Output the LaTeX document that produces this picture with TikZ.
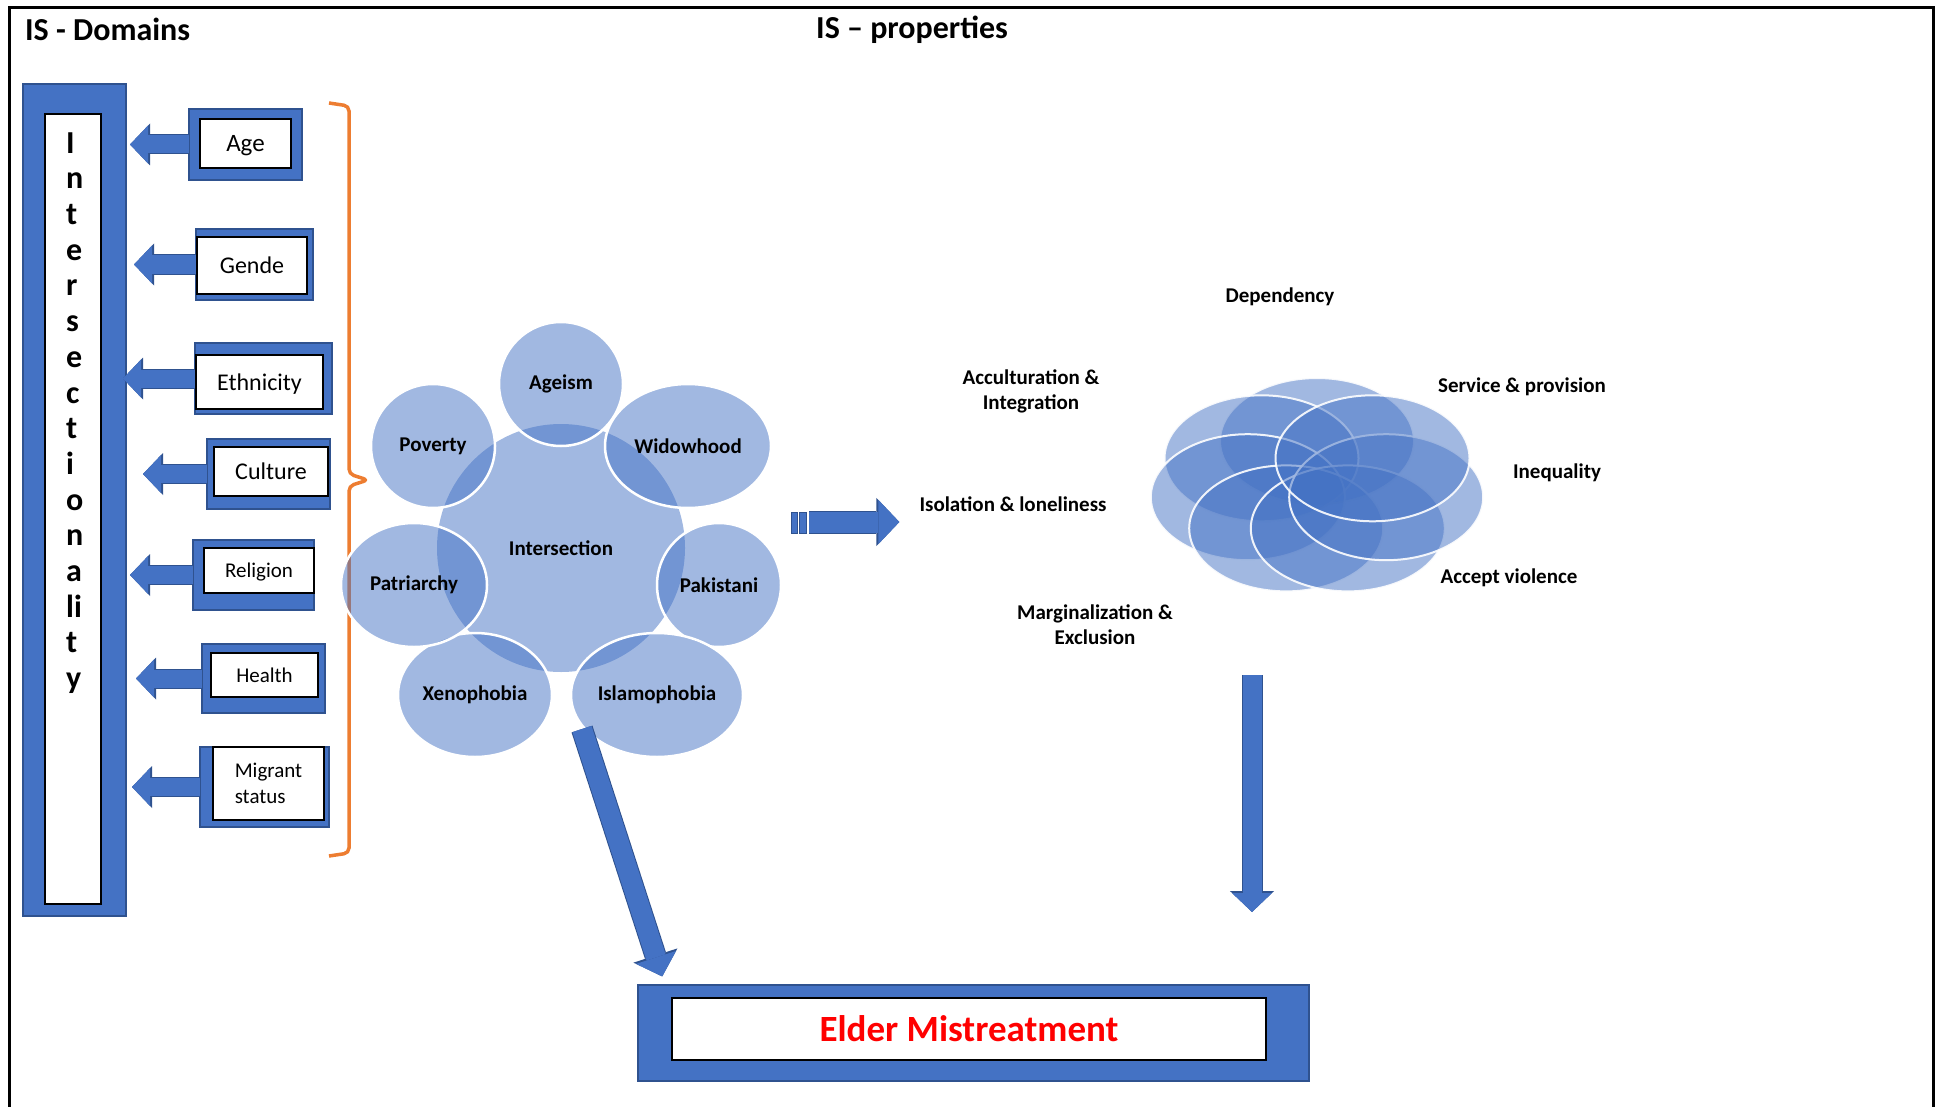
\documentclass[tikz,border=0pt]{standalone}
\usepackage{fontspec}
\setmainfont{Carlito}
\usetikzlibrary{shapes,arrows.meta}

\definecolor{offblue}{HTML}{4472C4}
\definecolor{edgeblue}{HTML}{2F528F}
\definecolor{braceorange}{HTML}{ED7D31}
\definecolor{alertred}{HTML}{FF0000}

\begin{document}
\begin{tikzpicture}[x=1pt, y=-1pt,
    frame_blue/.style ={rectangle, draw=edgeblue, line width=1.5pt, fill=offblue,
      inner sep=0pt, outer sep=0pt},
    frame_white/.style ={rectangle, draw=black, line width=1.5pt, fill=white,
      inner sep=0pt, outer sep=0pt, align=left, text depth=0pt},
    petal/.style ={ellipse, draw=white, line width=2.5pt, fill=offblue, fill opacity=0.5,
      draw opacity=1, text opacity=1, inner sep=0pt, font=\fontsize{21}{25}\selectfont\bfseries},
    property/.style ={inner sep=0pt, align=center, font=\fontsize{21}{25}\selectfont\bfseries},
    heading/.style ={anchor=west, inner sep=0pt, font=\fontsize{32}{38}\selectfont\bfseries},
    blockarrow/.style ={draw=offblue, line width=#1,
      -{Triangle[length=0pt 1, width=0pt 2.1, line width=0pt]},
      preaction={draw=edgeblue, line width=#1+2pt,
        -{Triangle[length=0pt 1, width=0pt 2.1, line width=0pt]}}}]
    \useasboundingbox (0,0) rectangle (1942,1107);
    % page frame, open at the bottom
    \draw[line width=3pt] (9,1107) -- (9,8) -- (1933,8) -- (1933,1107);
    \node[heading] (domainstitle) at (25,29) {IS - Domains};
    \node[heading] (propstitle) at (816,30) {IS -- properties};

    % intersectionality bar
    \node[frame_blue, minimum width=103pt, minimum height=832pt] (bar) at (74.5,500) {};
    \node[frame_white, minimum width=56pt, minimum height=790pt] (barinner) at (73,509) {};
    \node[anchor=west, inner sep=0pt, align=left, font=\fontsize{32}{35.7}\selectfont\bfseries]
      (barlabel) at (66,413) {I\\n\\t\\e\\r\\s\\e\\c\\t\\i\\o\\n\\a\\li\\t\\y};

    % domains
    \node[frame_blue, minimum width=113pt, minimum height=71pt] (ageframe) at (245.5,144.5) {};
    \node[frame_white, minimum width=91pt, minimum height=49pt, font=\fontsize{25}{30}\selectfont]
      (age) at (245.5,143.5) {Age};
    \node[frame_blue, minimum width=117pt, minimum height=71pt] (gendeframe) at (254.5,264.5) {};
    \node[frame_white, minimum width=110pt, minimum height=57pt, font=\fontsize{24}{29}\selectfont]
      (gende) at (252,265.5) {Gende};
    \node[frame_blue, minimum width=137pt, minimum height=71pt] (ethnicityframe) at (263.5,378.5) {};
    \node[frame_white, minimum width=127pt, minimum height=54pt, font=\fontsize{24}{29}\selectfont]
      (ethnicity) at (259.5,382) {Ethnicity};
    \node[frame_blue, minimum width=123pt, minimum height=70pt] (cultureframe) at (268.5,474) {};
    \node[frame_white, minimum width=114pt, minimum height=49pt, font=\fontsize{24}{29}\selectfont]
      (culture) at (271,471.5) {Culture};
    \node[frame_blue, minimum width=121pt, minimum height=70pt] (religionframe) at (253.5,575) {};
    \node[frame_white, minimum width=110pt, minimum height=45pt, font=\fontsize{21}{26}\selectfont]
      (religion) at (259,570.5) {Religion};
    \node[frame_blue, minimum width=123pt, minimum height=69pt] (healthframe) at (263.5,678.5) {};
    \node[frame_white, minimum width=107pt, minimum height=44pt, font=\fontsize{21}{26}\selectfont]
      (health) at (264.5,675) {Health};
    \node[frame_blue, minimum width=129pt, minimum height=80pt] (migrantframe) at (264.5,787) {};
    \node[frame_white, minimum width=111pt, minimum height=73pt, font=\fontsize{21}{26}\selectfont]
      (migrant) at (268.5,783.5) {Migrant\\status};

    % orange brace
    \draw[braceorange, line width=3.5pt, rounded corners=5pt]
      (329,103) -- (349,106) -- (349,474) -- (368,480) -- (349,486) -- (349,853) -- (329,856);

    % properties cluster
    \node[petal, draw=none, minimum width=248pt, minimum height=248pt] (intersection) at (561,548) {Intersection};
    \node[petal, minimum width=124pt, minimum height=124pt] (ageism) at (561,384) {Ageism};
    \node[petal, minimum width=166pt, minimum height=124pt] (widowhood) at (688,446) {Widowhood};
    \node[petal, minimum width=124pt, minimum height=124pt] (pakistani) at (719,585) {Pakistani};
    \node[petal, minimum width=172pt, minimum height=124pt] (islamophobia) at (657,695) {Islamophobia};
    \node[petal, minimum width=154pt, minimum height=124pt] (xenophobia) at (475,695) {Xenophobia};
    \node[petal, minimum width=146pt, minimum height=124pt] (patriarchy) at (414,585) {Patriarchy};
    \node[petal, minimum width=124pt, minimum height=124pt] (poverty) at (433,446) {Poverty};

    % flower of overlapping ellipses
    \begin{scope}[fill=offblue, fill opacity=0.5, draw=white, draw opacity=0.9, line width=2pt]
      \filldraw (1317,441) ellipse [x radius=97pt, y radius=63pt];
      \filldraw (1261.5,458.3) ellipse [x radius=97pt, y radius=63pt];
      \filldraw (1247.8,497.2) ellipse [x radius=97pt, y radius=63pt];
      \filldraw (1286.2,528.4) ellipse [x radius=97pt, y radius=63pt];
      \filldraw (1347.8,528.4) ellipse [x radius=97pt, y radius=63pt];
      \filldraw (1386.2,497.2) ellipse [x radius=97pt, y radius=63pt];
      \filldraw (1372.5,458.3) ellipse [x radius=97pt, y radius=63pt];
    \end{scope}
    \node[property] (dependency) at (1280,297) {Dependency};
    \node[property] (service) at (1522,387) {Service \& provision};
    \node[property] (inequality) at (1557,473) {Inequality};
    \node[property] (acceptviolence) at (1509,578) {Accept violence};
    \node[property] (marginalization) at (1095,625) {Marginalization \&\\Exclusion};
    \node[property] (isolation) at (1013,504) {Isolation \& loneliness};
    \node[property] (acculturation) at (1031,391) {Acculturation \&\\Integration};

    % outcome
    \node[frame_blue, minimum width=671pt, minimum height=96pt] (elderframe) at (973.5,1033) {};
    \node[frame_white, minimum width=594pt, minimum height=62pt, text=alertred,
      font=\fontsize{37}{44}\selectfont\bfseries] (elder) at (969,1029) {Elder Mistreatment};

    \coordinate (clusterout) at (809,522);
    \coordinate (clusterdown) at (582,729);
    \coordinate (propsdown) at (1252,675);

    % connecting nodes with block arrows
    \draw[blockarrow=18pt, shorten >=4pt] (ageframe.west) -- (ageframe.west -| bar.east);
    \draw[blockarrow=18pt, shorten >=8pt] (gendeframe.west) -- (gendeframe.west -| bar.east);
    \draw[blockarrow=18pt, shorten >=-3pt] (ethnicityframe.west) -- (ethnicityframe.west -| bar.east);
    \draw[blockarrow=18pt, shorten >=17pt] (cultureframe.west) -- (cultureframe.west -| bar.east);
    \draw[blockarrow=18pt, shorten >=4pt] (religionframe.west) -- (religionframe.west -| bar.east);
    \draw[blockarrow=18pt, shorten >=10pt] (healthframe.west) -- (healthframe.west -| bar.east);
    \draw[blockarrow=18pt, shorten >=6pt] (migrantframe.west) -- (migrantframe.west -| bar.east);
    \filldraw[draw=edgeblue, fill=offblue, line width=1pt]
      (791,512) rectangle (797,533) (799,512) rectangle (806,533);
    \draw[blockarrow=21pt, shorten >=20pt] (clusterout) -- (clusterout -| isolation.west);
    \draw[blockarrow=20pt, shorten >=9pt] (clusterdown) -- ([xshift=27pt]elderframe.north west);
    \draw[blockarrow=19pt, shorten >=73pt] (propsdown) -- (propsdown |- elderframe.north);
\end{tikzpicture}
\end{document}
